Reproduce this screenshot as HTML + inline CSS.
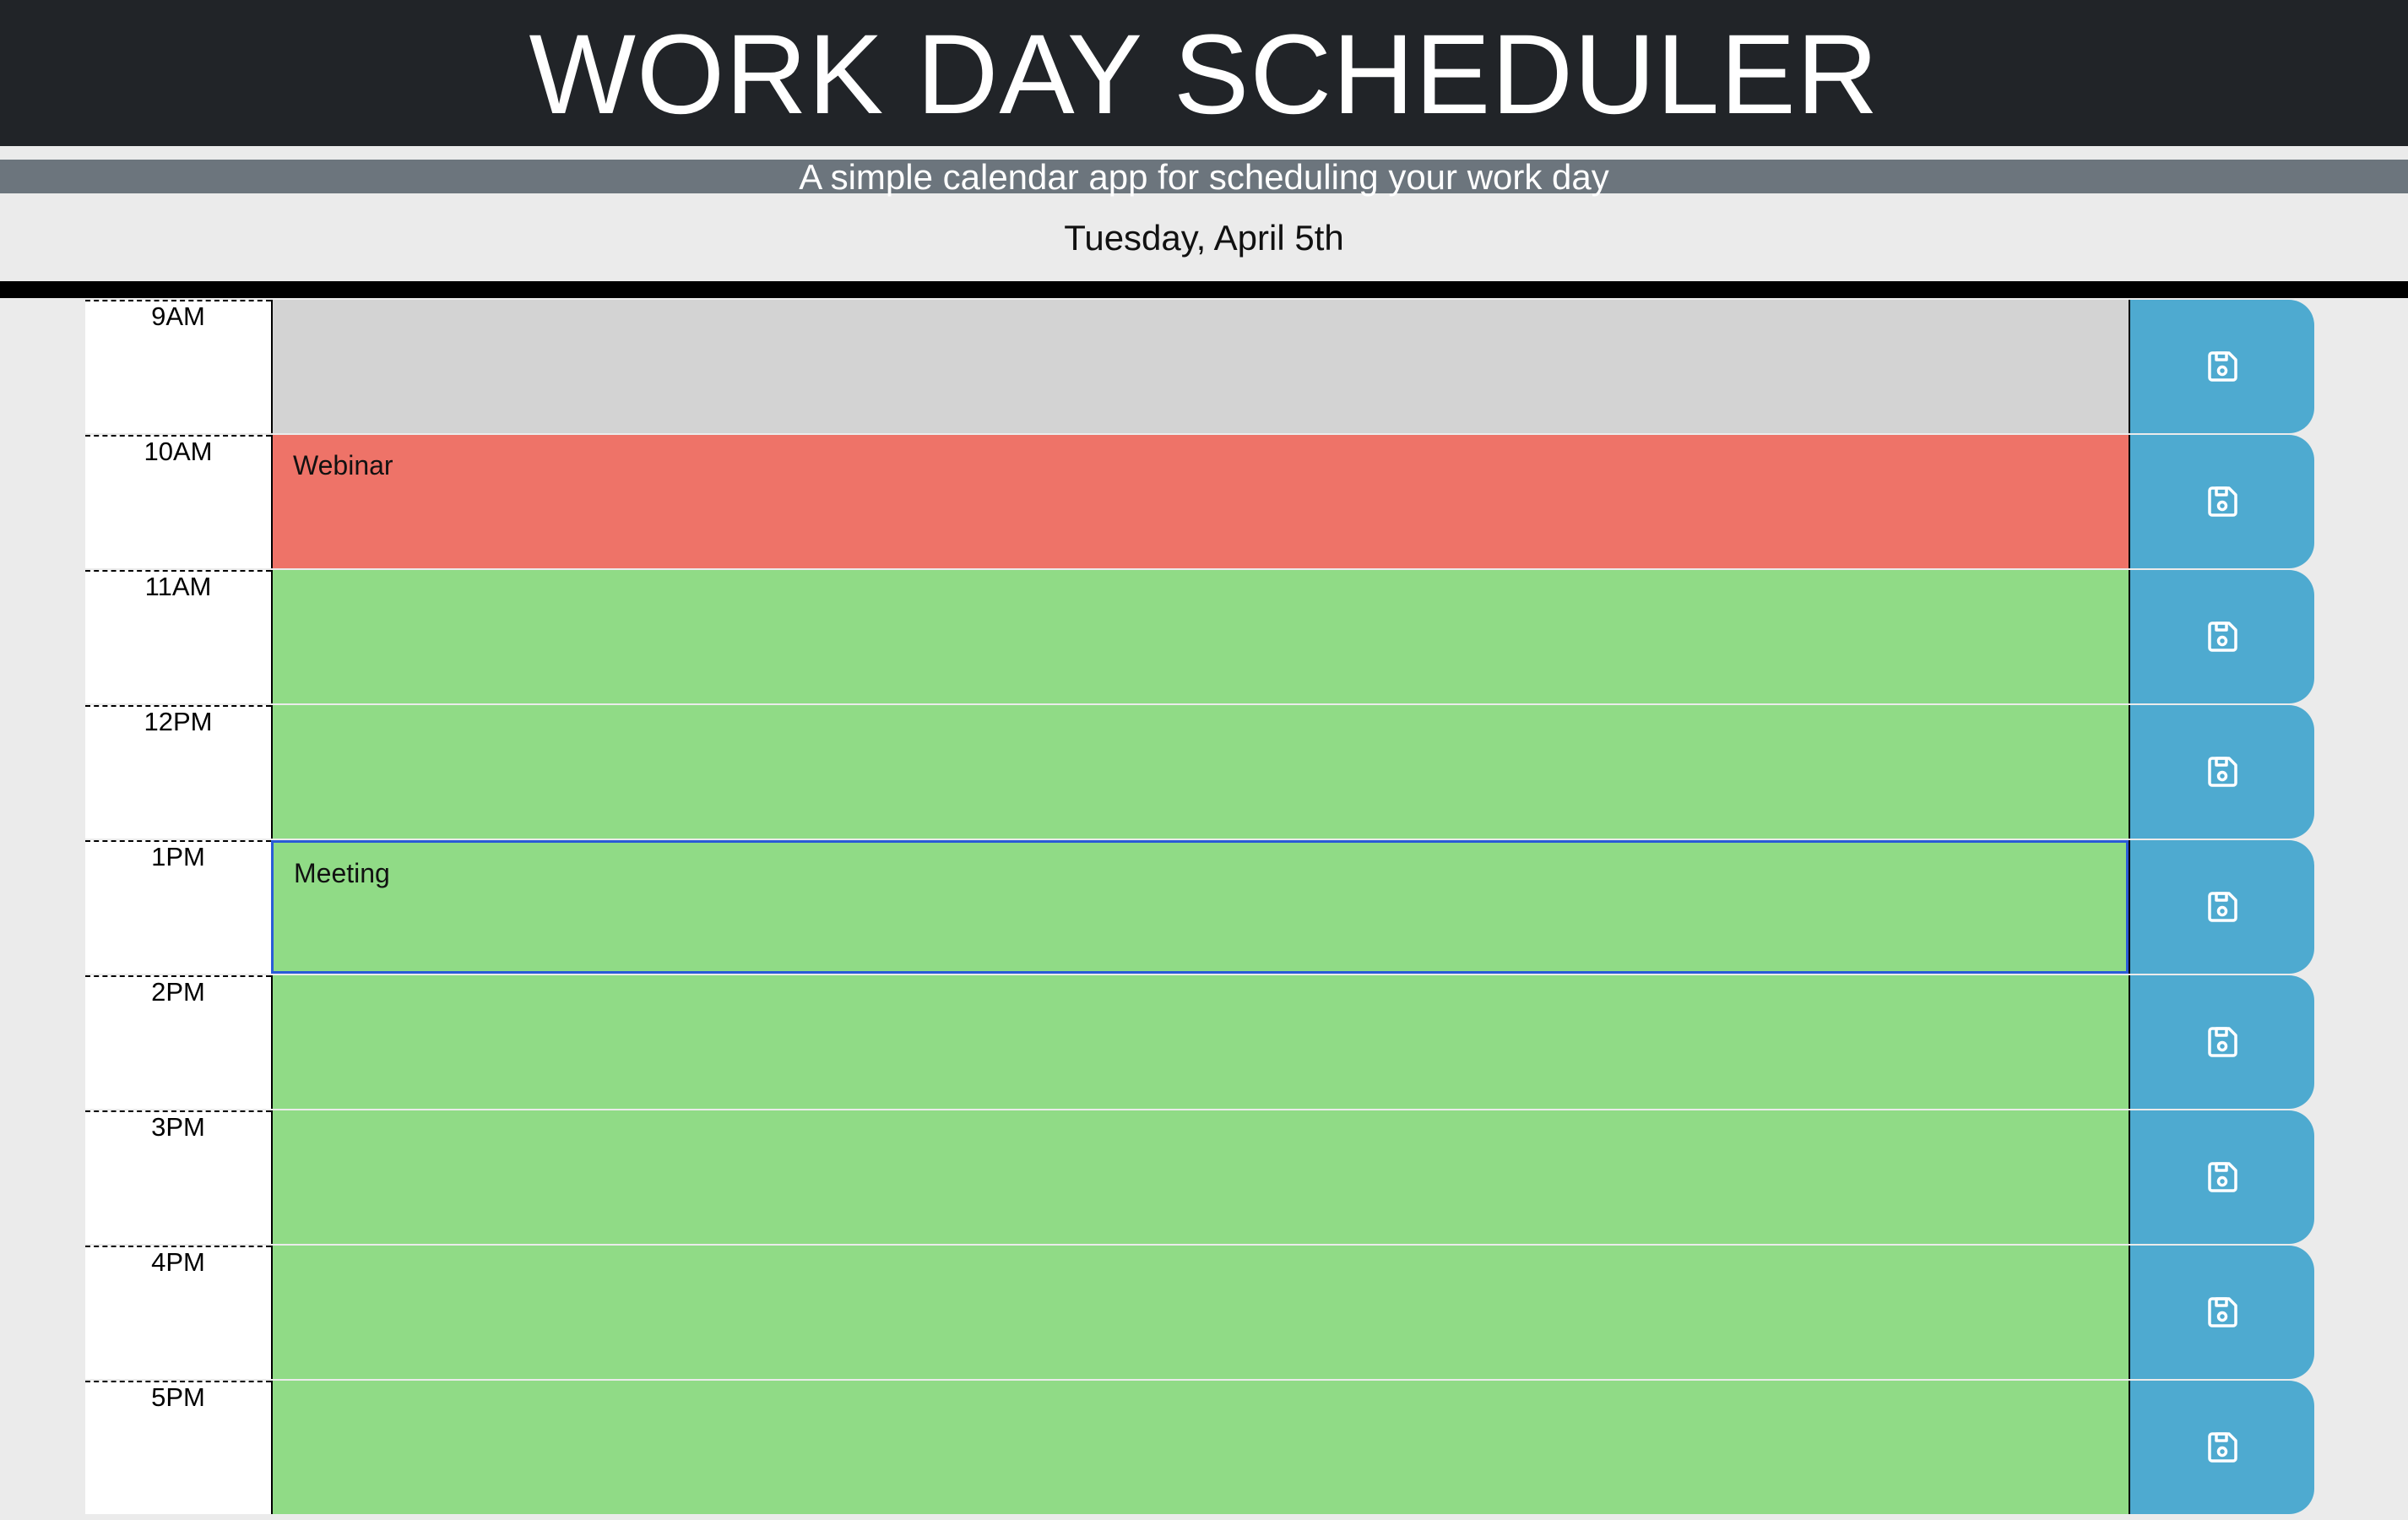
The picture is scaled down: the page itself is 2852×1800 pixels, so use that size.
<!DOCTYPE html>
<html><head><meta charset="utf-8"><style>
*{box-sizing:border-box;margin:0;padding:0}
body{width:2852px;height:1800px;overflow:hidden;background:#ebebeb;font-family:"Liberation Sans",sans-serif;position:relative}
#hdr{position:absolute;left:0;top:0;width:2852px;height:173px;background:#212428;color:#fff;text-align:center;font-size:134px;line-height:178px;letter-spacing:1px}
#sub{position:absolute;left:0;top:189px;width:2852px;height:40px;background:#6c757d;color:#fff;text-align:center;font-size:42px;line-height:42px}
#date{position:absolute;left:0;top:258px;width:2852px;text-align:center;font-size:42px;color:#111}
#bar{position:absolute;left:0;top:333px;width:2852px;height:20px;background:#000}
.row{position:absolute;left:101px;width:2640px;height:158px}
.hour{position:absolute;left:0;top:0;width:220px;height:158px;background:#fff;border-top:2px dashed #000;text-align:center;font-size:31px;padding-top:0px}
.ta{position:absolute;left:220px;top:0;width:2200px;height:158px;border-left:2px solid #000;font-size:32px;padding:18px 24px;color:#111}
.past{background:#d3d3d3}.present{background:#ee7368}.future{background:#90db86}
.focus{border:3px solid #2a5bd7}
.btn{position:absolute;left:2420px;top:0;width:220px;height:158px;background:#4eaad0;border-radius:0 30px 30px 0;border-left:2px solid #000;display:flex;align-items:center;justify-content:center}
</style></head><body>
<div id="hdr">WORK DAY SCHEDULER</div>
<div id="sub">A simple calendar app for scheduling your work day</div>
<div id="date">Tuesday, April 5th</div>
<div id="bar"></div>
<div id="rows"></div>
<script>
const hours=["9AM","10AM","11AM","12PM","1PM","2PM","3PM","4PM","5PM"];
const states=["past","present","future","future","future","future","future","future","future"];
const notes=["","Webinar","","","Meeting","","","",""];
const icon='<svg width="40" height="40" viewBox="0 0 40 40" fill="none" stroke="#fff" stroke-width="3.5" stroke-linejoin="round"><path d="M5 7a3 3 0 0 1 3-3h20l8 8v21a3 3 0 0 1-3 3H8a3 3 0 0 1-3-3z"/><rect x="13" y="4" width="12" height="8"/><circle cx="20" cy="25" r="4.5"/></svg>';
const c=document.getElementById('rows');
hours.forEach((h,i)=>{
  const r=document.createElement('div');r.className='row';r.style.top=(355+i*160)+'px';
  
  
  const hd=document.createElement('div');hd.className='hour';hd.textContent=h;
  
  
  const t=document.createElement('div');t.className='ta '+states[i]+(i===4?' focus':'');t.textContent=notes[i];
  
  
  const b=document.createElement('div');b.className='btn';b.innerHTML=icon;
  
  
  r.append(hd,t,b);c.appendChild(r);
});
</script>
</body></html>
